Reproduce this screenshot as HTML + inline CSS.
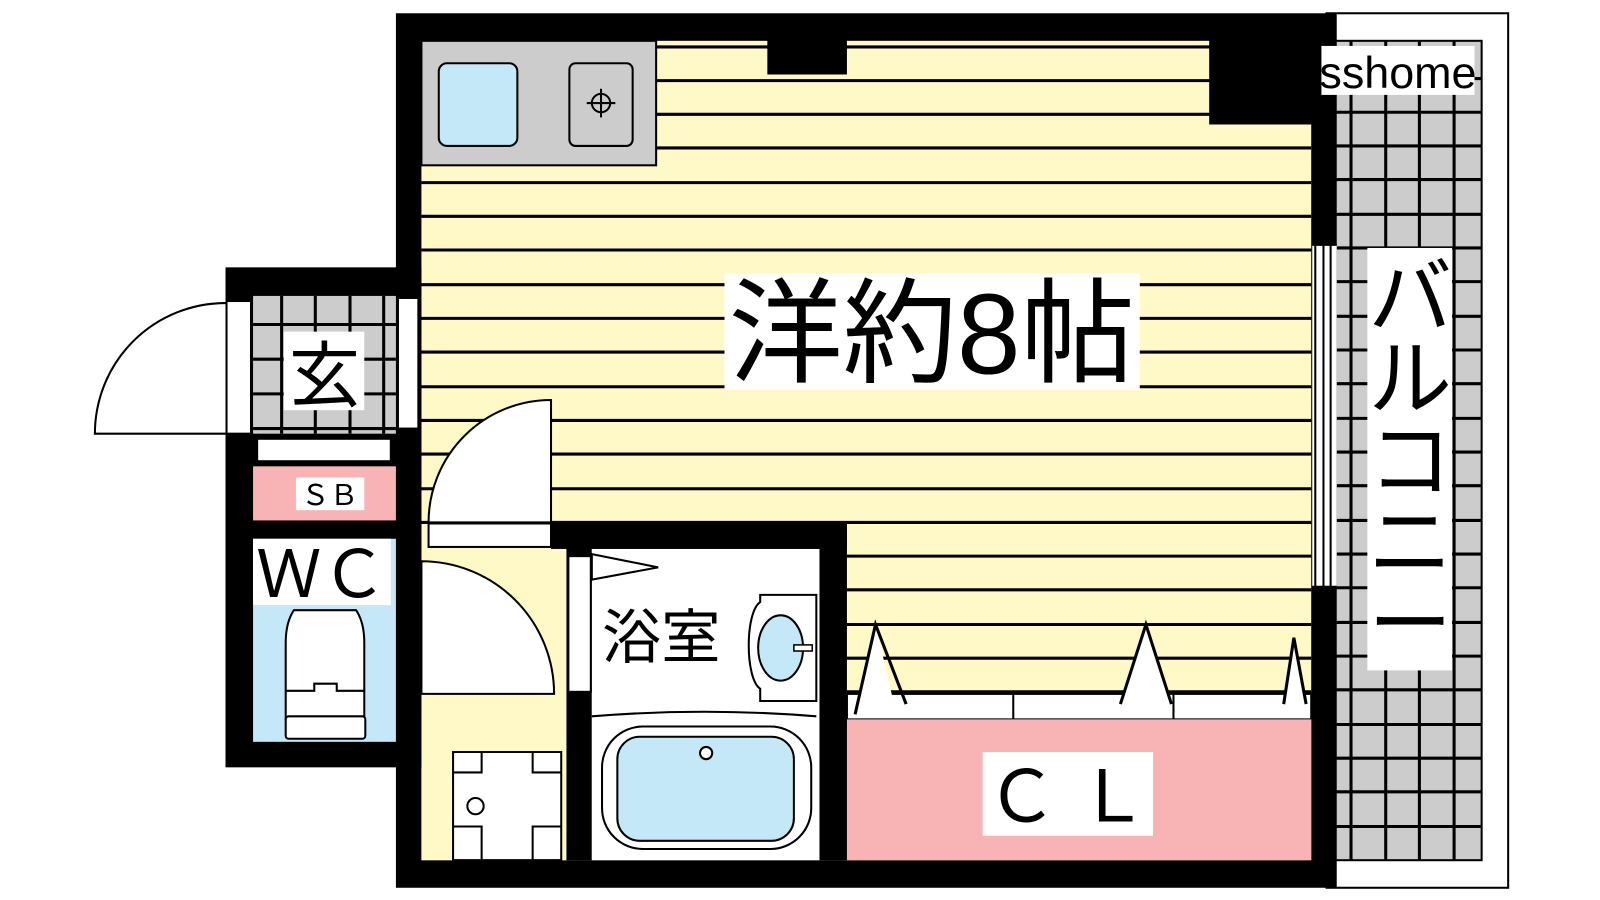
<!DOCTYPE html>
<html><head><meta charset="utf-8"><style>
html,body{margin:0;padding:0;background:#fff;}
svg{display:block}
text{font-family:"Liberation Sans","Noto Sans CJK JP",sans-serif;}
</style></head><body>
<svg width="1600" height="900" viewBox="0 0 1568 882" preserveAspectRatio="none" xmlns="http://www.w3.org/2000/svg">
<rect width="1568" height="882" fill="#fff"/>
<!-- balcony -->
<rect x="1300" y="13" width="178" height="857" fill="#fff" stroke="#000" stroke-width="2"/>
<rect x="1305" y="40" width="147" height="803" fill="#ccc" stroke="#000" stroke-width="2"/>
<g stroke="#000" stroke-width="3">
<line x1="1324" y1="40" x2="1324" y2="843"/><line x1="1358" y1="40" x2="1358" y2="843"/>
<line x1="1391" y1="40" x2="1391" y2="843"/><line x1="1425" y1="40" x2="1425" y2="843"/>
</g>
<g stroke="#000" stroke-width="3">
<line x1="1305" y1="77" x2="1452" y2="77"/><line x1="1305" y1="110" x2="1452" y2="110"/><line x1="1305" y1="143" x2="1452" y2="143"/><line x1="1305" y1="176" x2="1452" y2="176"/><line x1="1305" y1="210" x2="1452" y2="210"/><line x1="1305" y1="243" x2="1452" y2="243"/><line x1="1305" y1="276" x2="1452" y2="276"/><line x1="1305" y1="310" x2="1452" y2="310"/><line x1="1305" y1="343" x2="1452" y2="343"/><line x1="1305" y1="376" x2="1452" y2="376"/><line x1="1305" y1="410" x2="1452" y2="410"/><line x1="1305" y1="443" x2="1452" y2="443"/><line x1="1305" y1="476" x2="1452" y2="476"/><line x1="1305" y1="510" x2="1452" y2="510"/><line x1="1305" y1="543" x2="1452" y2="543"/><line x1="1305" y1="576" x2="1452" y2="576"/><line x1="1305" y1="610" x2="1452" y2="610"/><line x1="1305" y1="643" x2="1452" y2="643"/><line x1="1305" y1="676" x2="1452" y2="676"/><line x1="1305" y1="710" x2="1452" y2="710"/><line x1="1305" y1="743" x2="1452" y2="743"/><line x1="1305" y1="776" x2="1452" y2="776"/><line x1="1305" y1="810" x2="1452" y2="810"/>
</g>
<rect x="1340" y="243" width="83" height="414" fill="#fff"/>
<text font-size="82" text-anchor="middle" font-family="Noto Sans CJK JP,sans-serif">
<tspan x="1382" y="320">バ</tspan><tspan x="1382" y="400">ル</tspan><tspan x="1382" y="480">コ</tspan><tspan x="1382" y="560">ニ</tspan><tspan x="1382" y="640">ー</tspan></text>

<!-- main outer wall -->
<rect x="388" y="13" width="922" height="857" fill="#000"/>
<rect x="413" y="40" width="872" height="803" fill="#fff9c8"/>
<g stroke="#000" stroke-width="3">
<line x1="413" y1="46" x2="1285" y2="46"/><line x1="413" y1="79" x2="1285" y2="79"/><line x1="413" y1="112" x2="1285" y2="112"/><line x1="413" y1="145" x2="1285" y2="145"/><line x1="413" y1="179" x2="1285" y2="179"/><line x1="413" y1="212" x2="1285" y2="212"/><line x1="413" y1="245" x2="1285" y2="245"/><line x1="413" y1="279" x2="1285" y2="279"/><line x1="413" y1="312" x2="1285" y2="312"/><line x1="413" y1="345" x2="1285" y2="345"/><line x1="413" y1="379" x2="1285" y2="379"/><line x1="413" y1="412" x2="1285" y2="412"/><line x1="413" y1="445" x2="1285" y2="445"/><line x1="413" y1="479" x2="1285" y2="479"/><line x1="413" y1="512" x2="1285" y2="512"/><line x1="830" y1="545" x2="1285" y2="545"/><line x1="830" y1="578" x2="1285" y2="578"/><line x1="830" y1="612" x2="1285" y2="612"/><line x1="830" y1="645" x2="1285" y2="645"/><line x1="830" y1="678" x2="1285" y2="678"/>
</g>
<rect x="752" y="38" width="78" height="35" fill="#000"/>
<rect x="1185" y="38" width="102" height="84" fill="#000"/>
<rect x="1286" y="240" width="24" height="335" fill="#fff"/>
<g stroke="#000" stroke-width="2"><line x1="1289" y1="240" x2="1289" y2="575"/><line x1="1297" y1="240" x2="1297" y2="575"/><line x1="1304" y1="240" x2="1304" y2="575"/><line x1="1286" y1="240" x2="1310" y2="240"/><line x1="1286" y1="575" x2="1310" y2="575"/></g>
<!-- sshome label -->
<rect x="1295" y="45" width="150" height="48" fill="#fff"/>
<text x="1370" y="86" font-size="44" text-anchor="middle">sshome</text>
<!-- kitchen -->
<rect x="413" y="40" width="230" height="122" fill="#ccc" stroke="#000" stroke-width="2"/>
<rect x="430" y="62" width="77" height="81" rx="8" fill="#c4e8f8" stroke="#000" stroke-width="2"/>
<rect x="558" y="62" width="62" height="81" rx="6" fill="#ccc" stroke="#000" stroke-width="2"/>
<circle cx="589" cy="101" r="9" fill="none" stroke="#000" stroke-width="2"/>
<path d="M589 87v28M575 101h28" stroke="#000" stroke-width="2"/>
<rect x="710" y="268" width="407" height="114" fill="#fff"/>
<text x="913" y="366" font-size="112" text-anchor="middle" font-family="Noto Sans CJK JP,sans-serif">洋約8帖</text>
<!-- closet -->
<rect x="830" y="680" width="455" height="25" fill="#fff" stroke="#000" stroke-width="2"/>
<line x1="993" y1="680" x2="993" y2="705" stroke="#000" stroke-width="2"/>
<line x1="1150" y1="680" x2="1150" y2="705" stroke="#000" stroke-width="2"/>
<path d="M838 700L858 612L878 698Z" fill="#fff"/><path d="M838 700L858 612L888 690" fill="none" stroke="#000" stroke-width="3"/>
<path d="M1098 690L1123 612L1148 690Z" fill="#fff"/><path d="M1098 690L1123 612L1148 690" fill="none" stroke="#000" stroke-width="3"/>
<path d="M1258 690L1268 625L1280 690Z" fill="#fff"/><path d="M1258 690L1268 625L1280 690" fill="none" stroke="#000" stroke-width="3"/>
<rect x="830" y="705" width="455" height="138" fill="#f8b4b4"/>
<rect x="963" y="737" width="167" height="82" fill="#fff"/>
<text x="1046" y="805" font-size="70" text-anchor="middle">Ｃ Ｌ</text>
<!-- bath -->
<rect x="540" y="512" width="290" height="26" fill="#000"/>
<rect x="555" y="512" width="25" height="331" fill="#000"/>
<rect x="803" y="512" width="27" height="331" fill="#000"/>
<rect x="580" y="538" width="223" height="305" fill="#fff"/>
<rect x="557" y="545" width="22" height="133" fill="#fff" stroke="#000" stroke-width="2"/>
<path d="M580 543L645 556L580 568Z" fill="#fff" stroke="#000" stroke-width="2"/>
<text x="648" y="645" font-size="58" text-anchor="middle" font-family="Noto Sans CJK JP,sans-serif">浴室</text>
<path d="M745 583H800V687H745V675C730 665 730 600 745 590Z" fill="#fff" stroke="#000" stroke-width="2"/>
<ellipse cx="765" cy="635" rx="22" ry="32" fill="#c4e8f8" stroke="#000" stroke-width="2"/>
<rect x="778" y="632" width="18" height="6" fill="#fff" stroke="#000" stroke-width="1.5"/>
<path d="M580 702Q690 693 800 702" fill="none" stroke="#000" stroke-width="2"/>
<rect x="590" y="712" width="205" height="120" rx="40" fill="#fff" stroke="#000" stroke-width="2"/>
<rect x="605" y="722" width="173" height="102" rx="22" fill="#c4e8f8" stroke="#000" stroke-width="2"/>
<circle cx="692" cy="738" r="6" fill="#fff" stroke="#000" stroke-width="2"/>
<!-- room door -->
<rect x="420" y="513" width="120" height="23" fill="#fff" stroke="#000" stroke-width="2"/>
<path d="M540 512V392A120 120 0 0 0 420 512Z" fill="#fff" stroke="#000" stroke-width="2"/>
<!-- corridor -->
<rect x="413" y="538" width="142" height="305" fill="#fff9c8"/>
<rect x="389" y="548" width="23" height="132" fill="#fff" stroke="#000" stroke-width="2"/>
<path d="M413 680H543A130 130 0 0 0 413 550Z" fill="#fff" stroke="#000" stroke-width="2"/>
<path d="M444 737H550V843H444Z" fill="#fff" stroke="#000" stroke-width="2"/>
<path d="M472 737V757H444M522 737V757H550M444 810H472V843M550 810H522V843" fill="none" stroke="#000" stroke-width="2"/>
<circle cx="466" cy="790" r="8" fill="#fff" stroke="#000" stroke-width="2"/>
<!-- entry block -->
<rect x="221" y="262" width="192" height="490" fill="#000"/>
<rect x="248" y="290" width="140" height="135" fill="#ccc"/>
<g stroke="#000" stroke-width="3">
<line x1="276" y1="290" x2="276" y2="425"/><line x1="309" y1="290" x2="309" y2="425"/><line x1="343" y1="290" x2="343" y2="425"/><line x1="376" y1="290" x2="376" y2="425"/>
<line x1="248" y1="318" x2="388" y2="318"/><line x1="248" y1="352" x2="388" y2="352"/><line x1="248" y1="386" x2="388" y2="386"/><line x1="248" y1="420" x2="388" y2="420"/>
</g>
<rect x="278" y="325" width="79" height="77" fill="#fff"/>
<text x="318" y="393" font-size="70" text-anchor="middle" font-family="Noto Sans CJK JP,sans-serif">玄</text>
<rect x="222" y="295" width="24" height="130" fill="#fff" stroke="#000" stroke-width="2"/>
<rect x="390" y="292" width="20" height="128" fill="#fff" stroke="#000" stroke-width="2"/>
<path d="M221 425H93A128 128 0 0 1 221 297" fill="#fff" stroke="#000" stroke-width="2"/>
<rect x="252" y="430" width="131" height="22" fill="#fff" stroke="#000" stroke-width="2"/>
<rect x="248" y="457" width="140" height="53" fill="#f8b4b4"/>
<rect x="290" y="468" width="67" height="32" fill="#fff"/>
<text x="323" y="495" font-size="28" text-anchor="middle">ＳＢ</text>
<rect x="248" y="528" width="140" height="199" fill="#c4e8f8"/>
<rect x="248" y="528" width="135" height="65" fill="#fff"/>
<text x="315" y="585" font-size="64" text-anchor="middle">ＷＣ</text>
<path d="M288 598Q280 610 280 630V705H357V630Q357 610 349 598Z" fill="#fff" stroke="#000" stroke-width="2"/>
<path d="M280 677H308V670H330V677H357" fill="none" stroke="#000" stroke-width="2"/>
<rect x="280" y="702" width="78" height="22" rx="3" fill="#fff" stroke="#000" stroke-width="2"/>
</svg>
</body></html>
